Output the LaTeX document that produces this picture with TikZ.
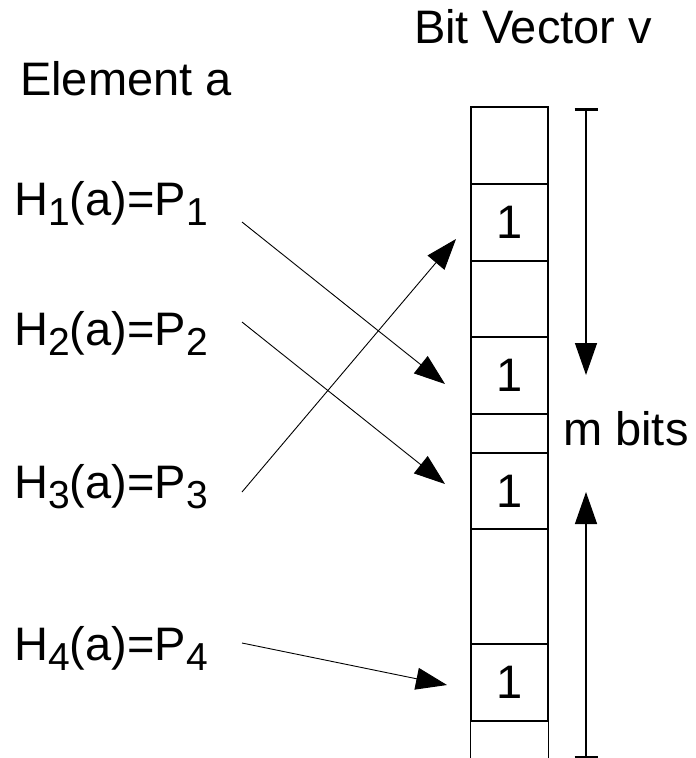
\documentclass[tikz,border=0pt]{standalone}
\usepackage{fontspec}
\setmainfont{Liberation Sans}
\usetikzlibrary{arrows.meta}
\newcommand\lowsub[1]{\raisebox{-10pt}{\fontsize{39}{39}\selectfont #1}}
\begin{document}
\begin{tikzpicture}[x=1pt,y=-1pt,
  lbl/.style={inner sep=0pt,anchor=base west,font=\fontsize{47}{51}\selectfont},
  cell/.style={draw,line width=1.2pt,minimum width=77pt,inner sep=0pt,
    font=\fontsize{47}{51}\selectfont},
  hasharrow/.style={line width=0.9pt,-{Triangle[length=31pt,width=22pt]}},
  dimarrow/.style={line width=1.4pt,-{Triangle[length=32pt,width=22pt]}},
  endbar/.style={line width=3pt}]
\useasboundingbox (0,0) rectangle (696,758);

% titles
\node[lbl] (elem) at (20,95) {Element a};
\node[lbl] (vec) at (414,43) {Bit Vector v};

% hash function labels
\node[lbl] (h1) at (14,215) {H\lowsub{1}(a)=P\lowsub{1}};
\node[lbl] (h2) at (14,345) {H\lowsub{2}(a)=P\lowsub{2}};
\node[lbl] (h3) at (14,498) {H\lowsub{3}(a)=P\lowsub{3}};
\node[lbl] (h4) at (14,660) {H\lowsub{4}(a)=P\lowsub{4}};

% bit vector cells
\node[cell,minimum height=77pt] (c0) at (509.5,145.5) {};
\node[cell,minimum height=77pt] (c1) at (509.5,222.5) {1};
\node[cell,minimum height=76pt] (c2) at (509.5,299) {};
\node[cell,minimum height=77pt] (c3) at (509.5,375.5) {1};
\node[cell,minimum height=39pt] (c4) at (509.5,433.5) {};
\node[cell,minimum height=76pt] (c5) at (509.5,491) {1};
\node[cell,minimum height=115pt] (c6) at (509.5,586.5) {};
\node[cell,minimum height=77pt] (c7) at (509.5,682.5) {1};
\draw[line width=1.2pt] (c7.south west) -- ++(0,40);
\draw[line width=1.2pt] (c7.south east) -- ++(0,40);

% arrows from hash values to bit positions
\coordinate (s1) at (242,222);
\coordinate (s2) at (242,322);
\coordinate (s3) at (242,492);
\coordinate (s4) at (242,643);
\coordinate (t1) at (445,384);
\coordinate (t2) at (445,484);
\coordinate (t3) at (456,239);
\coordinate (t4) at (447,685);
\draw[hasharrow] (s1) -- (t1);
\draw[hasharrow] (s2) -- (t2);
\draw[hasharrow] (s3) -- (t3);
\draw[hasharrow] (s4) -- (t4);

% dimension: m bits
\coordinate (dtop) at (586,109);
\coordinate (dbot) at (586,757);
\coordinate (dtip1) at (586,375);
\coordinate (dtip2) at (586,492);
\draw[endbar] ([xshift=-11.5pt]dtop) -- ([xshift=11.5pt]dtop);
\draw[endbar] ([xshift=-11.5pt]dbot) -- ([xshift=11.5pt]dbot);
\draw[dimarrow] (dtop) -- (dtip1);
\draw[dimarrow] (dbot) -- (dtip2);
\node[lbl] (mbits) at (563,445) {m bits};
\end{tikzpicture}
\end{document}
